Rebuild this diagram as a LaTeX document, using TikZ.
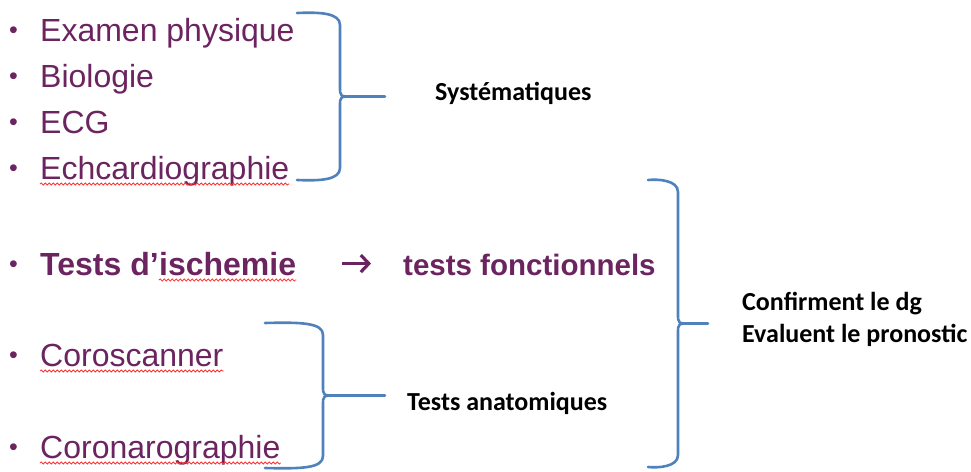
\documentclass[tikz,border=0pt]{standalone}
\usepackage{fontspec}
\setmainfont{Liberation Sans}
\newfontfamily\calibri{Carlito}
\usetikzlibrary{decorations.pathmorphing, arrows.meta}

\definecolor{itemcol}{RGB}{108,36,96}
\definecolor{bracecol}{RGB}{79,129,189}

% accolade droite : #1 bout, #2 barre, #3 pointe, #4 haut, #5 bas
\newcommand{\accolade}[5]{%
    \pgfmathsetmacro{\ymil}{(#4+#5)/2}
    \draw[accolade] (#1,#4) .. controls (#2-20,#4-1) and (#2,#4) .. (#2,#4+12)
        -- (#2,\ymil-10) .. controls (#2,\ymil) .. (#2+12,\ymil) -- (#3,\ymil)
        -- (#2+12,\ymil) .. controls (#2,\ymil) .. (#2,\ymil+10)
        -- (#2,#5-12) .. controls (#2,#5) and (#2-20,#5+1) .. (#1,#5);
}

\begin{document}
\begin{tikzpicture}[x=1pt, y=-1pt,
        item/.style={anchor=base west, inner sep=0pt, text=itemcol,
            font=\fontsize{32}{38}\selectfont},
        puce/.style={item, font=\fontsize{25}{30}\selectfont},
        legende/.style={anchor=base west, inner sep=0pt,
            font=\calibri\bfseries\fontsize{26}{31}\selectfont},
        accolade/.style={draw=bracecol, line width=2.6pt, line cap=round, line join=round},
        fleche/.style={draw=itemcol, line width=3.2pt,
            -{Straight Barb[length=8pt, width=17pt, line width=3.2pt]}},
        souligne/.style={draw=red!80, line width=0.8pt, decorate,
            decoration={snake, amplitude=1.1pt, segment length=4pt}}]

    \useasboundingbox (0,0) rectangle (971,471);

    % elements systematiques
    \foreach \y/\nom/\txt in {41/exam/Examen physique, 87/bio/Biologie,
            133/ecg/ECG, 179/echo/Echcardiographie} {
        \node[puce] (p\nom) at (9,\y-3) {•};
        \node[item] (\nom) at (40,\y) {\txt};
    }

    % tests d'ischemie
    \node[puce] (pisch) at (9,272) {•};
    \node[item, font=\bfseries\fontsize{32}{38}\selectfont] (tests) at (40,275) {Tests d’};
    \node[item, font=\bfseries\fontsize{32}{38}\selectfont] (isch) at (tests.base east) {ischemie};
    \node[item, font=\bfseries\fontsize{29.5}{35}\selectfont] (fonct) at (403,275) {tests fonctionnels};
    \draw[fleche, shorten <=46pt, shorten >=32pt] (isch.east) -- (isch.east -| fonct.west);

    % tests anatomiques
    \node[puce] (pcoro) at (9,363) {•};
    \node[item] (coro) at (40,366) {Coroscanner};
    \node[puce] (pcorog) at (9,455) {•};
    \node[item] (corog) at (40,458) {Coronarographie};

    % soulignements
    \foreach \nom in {echo, isch, coro, corog}
        \draw[souligne] ([yshift=-5pt]\nom.base west) -- ([yshift=-5pt]\nom.base east);

    % accolades
    \accolade{297}{340}{385}{13}{180}
    \accolade{265}{323}{385}{323}{468}
    \accolade{648}{678}{708}{180}{467}

    \node[legende] (syst) at (435,100) {Systématiques};
    \node[legende] (anat) at (407,410) {Tests anatomiques};
    \node[legende] (conf) at (742,310) {Confirment le dg};
    \node[legende] (eval) at (742,342) {Evaluent le pronostic};
\end{tikzpicture}
\end{document}
